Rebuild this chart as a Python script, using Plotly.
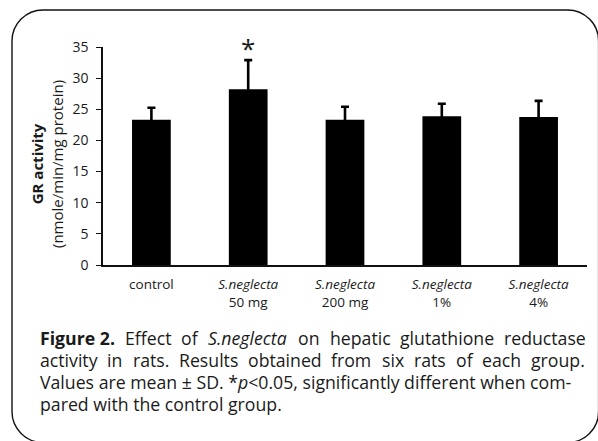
import plotly.graph_objects as go

# Group labels and GR activity (mean, SD)
groups = ["control", "<i>S.neglecta</i><br>50 mg", "<i>S.neglecta</i><br>200 mg",
          "<i>S.neglecta</i><br>1%", "<i>S.neglecta</i><br>4%"]
gr_mean = [23.3, 28.2, 23.3, 23.9, 23.75]
gr_sd = [1.95, 4.7, 2.1, 2.0, 2.6]
significant = [False, True, False, False, False]
y_ticks = [0, 5, 10, 15, 20, 25, 30, 35]

FONT = "Open Sans"
INK = "#1a1a1a"

# Figure geometry (pixels)
FIG_W, FIG_H = 598, 441
M_L, M_R, M_T, M_B = 103, 11, 47, 176
PW = FIG_W - M_L - M_R
PH = FIG_H - M_T - M_B


def px(x):
    return (x - M_L) / PW


def py(y):
    return (FIG_H - M_B - y) / PH


fig = go.Figure()
fig.add_trace(go.Bar(
    x=groups, y=gr_mean, width=0.4,
    marker=dict(color="black", line=dict(width=0)),
    error_y=dict(type="data", array=gr_sd, symmetric=True,
                 color="black", thickness=2.6, width=4),
))

annotations = []
# significance marker
for g, m, s, sig in zip(groups, gr_mean, gr_sd, significant):
    if sig:
        annotations.append(dict(x=g, y=m + s, xref="x", yref="y", text="*",
                                showarrow=False, yanchor="bottom", yshift=-8,
                                font=dict(family=FONT, size=26, color=INK)))

# y-axis title
annotations.append(dict(
    x=px(47), y=py(164), xref="paper", yref="paper", textangle=-90,
    text="<b>GR activity</b><br>(nmole/min/mg protein)", showarrow=False,
    xanchor="center", yanchor="middle",
    font=dict(family=FONT, size=15, color=INK)))

# caption; the first two lines are justified, one word at a time
cap_size = 17.7
line1 = [("<b>Figure 2.</b>", 38), ("Effect", 123.1), ("of", 179.0),
         ("<i>S.neglecta</i>", 205.8), ("on", 295.9), ("hepatic", 327.5),
         ("glutathione", 397.9), ("reductase", 501.7)]
line2 = [("activity", 38), ("in", 105.2), ("rats.", 130.7), ("Results", 177.1),
         ("obtained", 246.0), ("from", 329.4), ("six", 379.7), ("rats", 411.9),
         ("of", 453.7), ("each", 480.4), ("group.", 529.3)]
line3 = "Values are mean ± SD. *<i>p</i>&lt;0.05, significantly different when com-"
line4 = "pared with the control group."
baselines = [346, 368, 390, 412]


def cap_text(text, x, base):
    return dict(x=px(x), y=py(base + 6), xref="paper", yref="paper",
                text=text, showarrow=False, xanchor="left", yanchor="bottom",
                font=dict(family=FONT, size=cap_size, color=INK))


for words, base in ((line1, baselines[0]), (line2, baselines[1])):
    for w, x in words:
        annotations.append(cap_text(w, x, base))
annotations.append(cap_text(line3, 38, baselines[2]))
annotations.append(cap_text(line4, 38, baselines[3]))

# rounded frame
x0, x1, y0, y1, r = 12, 598.6, 10, 442.5, 31
k = 0.45
frame = (
    f"M {px(x0 + r)},{py(y0)} L {px(x1 - r)},{py(y0)} "
    f"C {px(x1 - r * k)},{py(y0)} {px(x1)},{py(y0 + r * k)} {px(x1)},{py(y0 + r)} "
    f"L {px(x1)},{py(y1 - r)} "
    f"C {px(x1)},{py(y1 - r * k)} {px(x1 - r * k)},{py(y1)} {px(x1 - r)},{py(y1)} "
    f"L {px(x0 + r)},{py(y1)} "
    f"C {px(x0 + r * k)},{py(y1)} {px(x0)},{py(y1 - r * k)} {px(x0)},{py(y1 - r)} "
    f"L {px(x0)},{py(y0 + r)} "
    f"C {px(x0)},{py(y0 + r * k)} {px(x0 + r * k)},{py(y0)} {px(x0 + r)},{py(y0)} Z"
)

fig.update_layout(
    width=FIG_W, height=FIG_H,
    margin=dict(l=M_L, r=M_R, t=M_T, b=M_B, pad=0),
    paper_bgcolor="white", plot_bgcolor="white",
    showlegend=False, bargap=0.6,
    font=dict(family=FONT, size=13.5, color=INK),
    xaxis=dict(type="category", range=[-0.5, 4.5], showline=True,
               linecolor="#111", linewidth=1.5, ticks="", showgrid=False,
               zeroline=False, tickfont=dict(family=FONT, size=13.5, color=INK),
               ticklabelstandoff=6),
    yaxis=dict(range=[0, 35], tickvals=y_ticks, showline=True,
               linecolor="#111", linewidth=1.5, ticks="outside", ticklen=5,
               tickwidth=1.2, tickcolor="#111", showgrid=False, zeroline=False,
               tickfont=dict(family=FONT, size=14, color=INK),
               ticklabelstandoff=5),
    annotations=annotations,
    shapes=[dict(type="path", path=frame, xref="paper", yref="paper",
                 line=dict(color="#111", width=1.4), layer="above")],
)

fig.write_html("out.html")
